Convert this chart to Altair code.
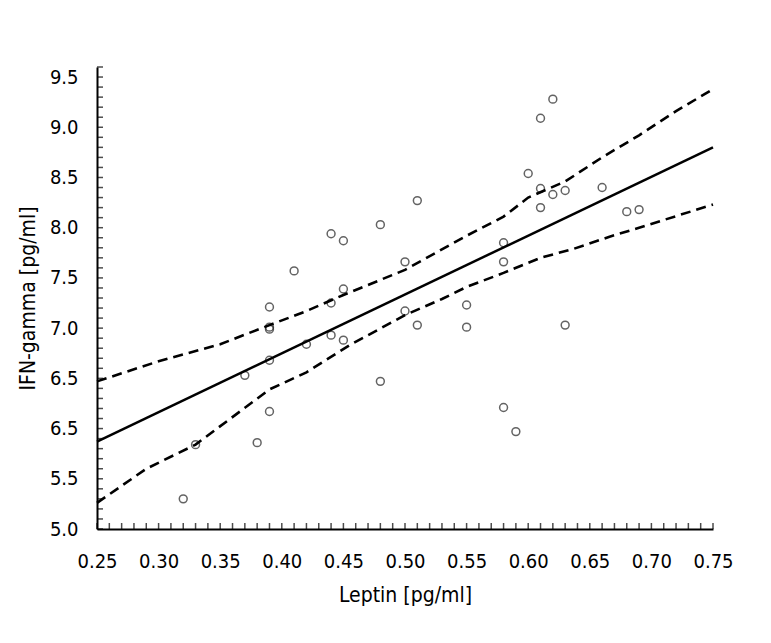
import altair as alt
import pandas as pd
import numpy as np

# ---- data ----
leptin = [0.32, 0.33, 0.38, 0.39, 0.37, 0.39, 0.39, 0.39, 0.39, 0.41,
          0.42, 0.44, 0.44, 0.44, 0.45, 0.45, 0.45, 0.48, 0.48, 0.50,
          0.50, 0.51, 0.51, 0.55, 0.55, 0.58, 0.58, 0.58, 0.59, 0.60,
          0.61, 0.62, 0.61, 0.61, 0.62, 0.63, 0.63, 0.66, 0.68, 0.69]
ifn_gamma = [5.30, 5.84, 5.86, 6.17, 6.53, 6.68, 7.01, 6.99, 7.21, 7.57,
             6.84, 7.94, 7.25, 6.93, 7.87, 7.39, 6.88, 8.03, 6.47, 7.66,
             7.17, 8.27, 7.03, 7.23, 7.01, 7.85, 7.66, 6.21, 5.97, 8.54,
             9.09, 9.28, 8.39, 8.20, 8.33, 8.37, 7.03, 8.40, 8.16, 8.18]

fit_x = [0.25, 0.75]
fit_y = [5.87, 8.80]

upper_x = [0.25, 0.30, 0.35, 0.39, 0.42, 0.45, 0.50, 0.55, 0.58, 0.60,
           0.63, 0.66, 0.69, 0.72, 0.75]
upper_y = [6.47, 6.67, 6.84, 7.03, 7.17, 7.33, 7.58, 7.92, 8.11, 8.30,
           8.46, 8.70, 8.92, 9.16, 9.38]

lower_x = [0.25, 0.29, 0.33, 0.39, 0.42, 0.455, 0.50, 0.53, 0.55, 0.58,
           0.61, 0.637, 0.666, 0.69, 0.75]
lower_y = [5.26, 5.60, 5.84, 6.39, 6.56, 6.83, 7.13, 7.29, 7.41, 7.55,
           7.70, 7.79, 7.91, 8.00, 8.23]

x_ticks = [0.25, 0.30, 0.35, 0.40, 0.45, 0.50, 0.55, 0.60, 0.65, 0.70, 0.75]
y_ticks = [5.0, 5.5, 6.0, 6.5, 7.0, 7.5, 8.0, 8.5, 9.0, 9.5]
y_tick_labels = ["5.0", "5.5", "6.5", "6.5", "7.0", "7.5", "8.0", "8.5", "9.0", "9.5"]

x_minor = [float(round(v, 2)) for v in np.arange(0.25, 0.7501, 0.01)]
y_minor = [float(round(v, 1)) for v in np.arange(5.0, 9.601, 0.1)]

FONT = "'DejaVu Sans Condensed', 'DejaVu Sans', sans-serif"
W, H = 616, 462

pts = pd.DataFrame({"leptin": leptin, "ifn": ifn_gamma})
fit = pd.DataFrame({"leptin": fit_x, "ifn": fit_y})
band = pd.concat([
    pd.DataFrame({"leptin": upper_x, "ifn": upper_y, "band": "upper"}),
    pd.DataFrame({"leptin": lower_x, "ifn": lower_y, "band": "lower"}),
])
xminor_df = pd.DataFrame({"leptin": x_minor})
yminor_df = pd.DataFrame({"ifn": y_minor})

x_scale = alt.Scale(domain=[0.25, 0.75], nice=False, zero=False)
y_scale = alt.Scale(domain=[5.0, 9.6], nice=False, zero=False)

label_expr = " : ".join(
    [f"abs(datum.value - {v}) < 0.001 ? '{l}'" for v, l in zip(y_ticks, y_tick_labels)]
) + " : ''"

x_axis = alt.Axis(
    orient="bottom", values=x_ticks, format=".2f", ticks=False, tickSize=0,
    labelPadding=22, labelFlush=False, labelOverlap=False,
    title="Leptin [pg/ml]", titlePadding=13, grid=False)
y_axis = alt.Axis(
    orient="left", values=y_ticks, labelExpr=label_expr, ticks=False, tickSize=0,
    labelPadding=19, labelFlush=False, labelOverlap=False,
    title="IFN-gamma [pg/ml]", titlePadding=11, grid=False)

points = alt.Chart(pts).mark_point(
    shape="circle", filled=False, color="#222222", size=62, strokeWidth=1.5
).encode(
    x=alt.X("leptin:Q", scale=x_scale, axis=x_axis),
    y=alt.Y("ifn:Q", scale=y_scale, axis=y_axis),
)

fit_line = alt.Chart(fit).mark_line(color="black", strokeWidth=2.5).encode(
    x=alt.X("leptin:Q", scale=x_scale),
    y=alt.Y("ifn:Q", scale=y_scale),
)

bands = alt.Chart(band).mark_line(color="black", strokeWidth=2.6, strokeDash=[10, 6]).encode(
    x=alt.X("leptin:Q", scale=x_scale),
    y=alt.Y("ifn:Q", scale=y_scale),
    detail="band:N",
)

# small inward minor ticks along both axes
x_minor_ticks = alt.Chart(xminor_df).mark_tick(
    color="black", orient="vertical", size=6, thickness=1.5, yOffset=-3
).encode(
    x=alt.X("leptin:Q", scale=x_scale),
    y=alt.datum(5.0),
)
y_minor_ticks = alt.Chart(yminor_df).mark_tick(
    color="black", orient="horizontal", size=6, thickness=1.5, xOffset=3
).encode(
    x=alt.datum(0.25),
    y=alt.Y("ifn:Q", scale=y_scale),
)

chart = alt.layer(points, fit_line, bands, x_minor_ticks, y_minor_ticks).properties(
    width=W, height=H,
    autosize=alt.AutoSizeParams(type="none"),
    padding={"left": 89, "top": 59, "right": 40, "bottom": 90},
).configure_view(stroke=None).configure_axis(
    labelFont=FONT, titleFont=FONT, labelFontSize=20, titleFontSize=21,
    labelColor="black", titleColor="black", titleFontWeight="normal",
    domainColor="black", domainWidth=2,
)

chart.save("out.html", embed_options={"renderer": "svg", "actions": False})
